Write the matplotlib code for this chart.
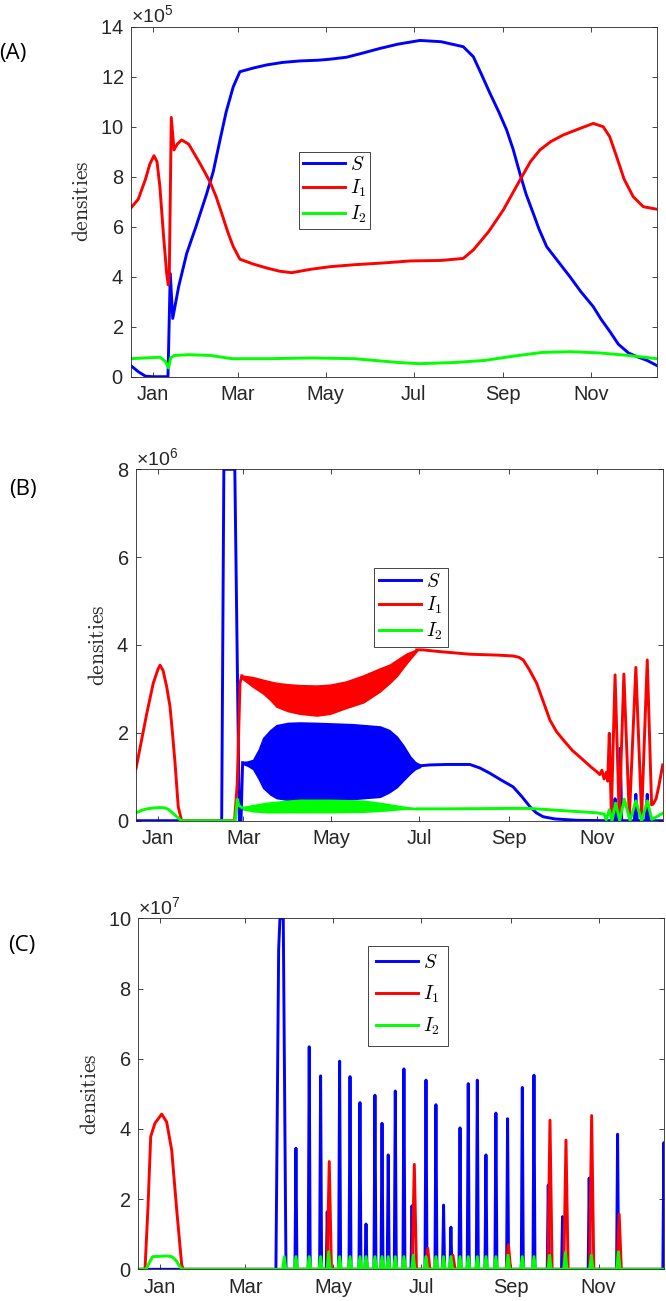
import numpy as np
import matplotlib
matplotlib.use('Agg')
import matplotlib.pyplot as plt
from matplotlib.font_manager import FontProperties
from matplotlib.ticker import ScalarFormatter

plt.rcParams['font.family'] = ['Liberation Sans', 'DejaVu Sans']
plt.rcParams['mathtext.fontset'] = 'custom'
plt.rcParams['mathtext.rm'] = 'Liberation Sans'
plt.rcParams['mathtext.it'] = 'Liberation Sans:italic'
plt.rcParams['mathtext.sf'] = 'Liberation Sans'

# ---------------- data ----------------
month_days = [0, 59, 120, 181, 243, 304]
month_labels = ['Jan', 'Mar', 'May', 'Jul', 'Sep', 'Nov']
x_range = (-15.25, 349.6)
series_names = ['$S$', '$I_1$', '$I_2$']

# Panel A (units of 1e5)
A_S_days = [-15.25, -10, -5, 0, 5, 10.6, 12.2, 13.9, 18, 23.6, 30, 37.5, 42, 46.7, 51, 55.9, 60.5, 70, 79, 90,
            102, 115, 123, 134.6, 146, 157.6, 170, 185.4, 200, 215.4, 222.4, 228, 234, 240, 245.5, 250, 254.7,
            259, 264, 268, 273.3, 280, 289.4, 297, 305.6, 311, 317.2, 323, 330, 336, 343, 349.6]
A_S_vals = [0.45, 0.2, 0.02, 0, 0, 0, 4.13, 2.33, 3.6, 4.93, 6.0, 7.33, 8.2, 9.47, 10.6, 11.6, 12.2, 12.35, 12.47,
            12.57, 12.63, 12.66, 12.7, 12.78, 12.95, 13.13, 13.3, 13.45, 13.4, 13.2, 12.8, 12.1, 11.33, 10.6, 9.87,
            9.1, 8.13, 7.3, 6.53, 5.9, 5.2, 4.7, 4.0, 3.4, 2.8, 2.3, 1.8, 1.3, 0.95, 0.8, 0.65, 0.45]
A_I1_days = [-15.25, -10, -5, -2, 0.9, 3, 5, 7.4, 9.7, 10.8, 11.5, 12.9, 14.8, 17, 20.1, 25, 32.8, 39.7, 44,
             47.9, 52, 55.9, 60.5, 70, 79, 88, 96.4, 110, 123, 140, 160, 178.5, 200, 215.4, 222.4, 233, 243.2,
             254.8, 262, 268.6, 276, 284.8, 295, 305.6, 312.5, 317, 321.8, 327, 333.3, 340.3, 349.6]
A_I1_vals = [6.74, 7.1, 7.9, 8.5, 8.84, 8.6, 7.6, 5.73, 4.13, 3.67, 4.0, 10.37, 9.07, 9.3, 9.47, 9.3, 8.53, 7.8,
             7.2, 6.53, 5.8, 5.2, 4.7, 4.5, 4.35, 4.22, 4.16, 4.3, 4.4, 4.48, 4.55, 4.63, 4.65, 4.73, 5.07, 5.8,
             6.67, 7.87, 8.6, 9.07, 9.4, 9.67, 9.9, 10.13, 10.0, 9.6, 8.8, 7.9, 7.2, 6.8, 6.7]
A_I2_days = [-15.25, -5, 5, 9, 11, 12.5, 15, 25, 40, 55, 80, 110, 140, 170, 185, 210, 230, 250, 270, 290, 310,
             330, 349.6]
A_I2_vals = [0.72, 0.75, 0.78, 0.6, 0.35, 0.75, 0.85, 0.88, 0.85, 0.72, 0.72, 0.75, 0.72, 0.57, 0.52, 0.57,
             0.65, 0.82, 0.97, 1.0, 0.95, 0.85, 0.72]

# Panel B (units of 1e6)
B_S_pre_days = [-15.25, 44.1, 45.6, 53.2, 56.3, 57.5, 58.6]
B_S_pre_vals = [0, 0, 8, 8, 0, 0, 1.32]
B_S_band_days = [58.6, 62, 66, 70, 73, 78, 82.2, 90, 98.3, 110, 119, 135, 153.7, 160, 165.3, 170, 174.5, 178, 181.5]
B_S_band_hi = [1.33, 1.34, 1.38, 1.62, 1.88, 2.06, 2.17, 2.22, 2.23, 2.22, 2.21, 2.19, 2.14, 2.06, 1.91, 1.7, 1.46,
               1.33, 1.27]
B_S_band_lo = [1.3, 1.26, 1.18, 0.95, 0.75, 0.6, 0.52, 0.48, 0.47, 0.47, 0.47, 0.5, 0.55, 0.65, 0.77, 0.93, 1.08,
               1.18, 1.23]
B_S_post_days = [181.5, 188.4, 200, 216, 223, 229.9, 238, 246, 252, 257.6, 262, 266.8, 275, 290, 310]
B_S_post_vals = [1.25, 1.27, 1.28, 1.28, 1.2, 1.08, 0.92, 0.77, 0.55, 0.32, 0.18, 0.09, 0.04, 0.01, 0]
B_S_spike_days = [316.6, 320.2, 331, 338.9]
B_S_spike_vals = [0.5, 1.65, 0.6, 0.6]

B_I1_pre_days = [-15.25, -11, -7.8, -3.3, 0, 1.4, 3.5, 6, 8.3, 10, 11.8, 14, 16.3, 53, 54.9, 56.8, 58]
B_I1_pre_vals = [1.19, 1.9, 2.44, 3.13, 3.45, 3.54, 3.42, 3.05, 2.6, 2.0, 1.31, 0.32, 0, 0, 0.85, 3.13, 3.3]
B_I1_band_days = [58, 62, 66, 73, 78, 82.2, 90, 98.3, 110, 119.1, 130, 142.2, 153.7, 160.7, 165.3, 172.3, 179.2]
B_I1_band_hi = [3.3, 3.28, 3.26, 3.2, 3.16, 3.13, 3.1, 3.08, 3.07, 3.09, 3.16, 3.3, 3.46, 3.55, 3.65, 3.8, 3.89]
B_I1_band_lo = [3.25, 3.15, 3.05, 2.9, 2.75, 2.6, 2.5, 2.44, 2.4, 2.44, 2.57, 2.7, 2.95, 3.15, 3.3, 3.6, 3.87]
B_I1_post_days = [179.2, 183, 195, 216, 235, 246, 250, 253, 257, 262.3, 267, 271.5, 276, 280.7, 287, 294.6, 300,
                  303.8, 306, 307.5, 309, 310.5, 311.5, 312.6, 314, 316.6, 319.5, 322.7, 326.5, 331, 335, 338.9,
                  341.9, 343, 345, 347, 349.6]
B_I1_post_vals = [3.89, 3.89, 3.85, 3.79, 3.77, 3.75, 3.72, 3.66, 3.45, 3.13, 2.7, 2.29, 2.03, 1.84, 1.6, 1.38,
                  1.22, 1.12, 1.05, 1.15, 0.95, 1.1, 0.9, 1.99, 0.15, 3.32, 0.08, 3.34, 0.08, 3.49, 0.1, 3.66,
                  0.36, 0.38, 0.5, 0.8, 1.27]

B_I2_pre_days = [-15.25, -11, -7.8, -3, 1.4, 5, 7, 10, 13, 16, 53.5, 54.9, 56, 58]
B_I2_pre_vals = [0.18, 0.24, 0.27, 0.29, 0.3, 0.29, 0.26, 0.18, 0.09, 0, 0, 0.49, 0.35, 0.3]
B_I2_band_days = [58, 66, 75, 90, 98.3, 119, 142, 153.7, 165, 172.3, 180]
B_I2_band_hi = [0.3, 0.35, 0.4, 0.45, 0.47, 0.47, 0.45, 0.4, 0.34, 0.3, 0.28]
B_I2_band_lo = [0.27, 0.22, 0.2, 0.2, 0.2, 0.2, 0.21, 0.23, 0.26, 0.28, 0.27]
B_I2_post_days = [180, 200, 246, 257, 280, 303.8, 309, 310.5, 312.6, 314.5, 317, 319.8, 323, 327, 331, 335,
                  339, 342, 345, 347, 349.6]
B_I2_post_vals = [0.27, 0.27, 0.28, 0.28, 0.23, 0.18, 0.15, 0.02, 0.25, 0.0, 0.4, 0.0, 0.49, 0.0, 0.45, 0.0,
                  0.45, 0.03, 0.08, 0.12, 0.17]

# Panel C (units of 1e7)
C_I1_early_days = [-15.25, -10.6, -8.5, -6.65, -3.7, 0.97, 4.4, 7.9, 11.4, 14.85, 16]
C_I1_early_vals = [0, 0, 1.8, 3.78, 4.16, 4.42, 4.2, 3.4, 1.69, 0.12, 0]
C_I2_early_days = [-15.25, -9.9, -7.5, -5.3, 4.4, 8, 11, 13.5, 15.5]
C_I2_early_vals = [0, 0, 0.2, 0.36, 0.38, 0.36, 0.25, 0.08, 0]
C_S_big_days = [80.2, 82.1, 83.0, 85.3, 87.2]
C_S_big_vals = [0, 9.1, 10.0, 10.0, 0]
C_S_spike_days = [94.1, 103.3, 111.2, 115.8, 124.4, 131.6, 138.5, 142.7, 148.9, 153.8, 158.1, 163.0, 169.0, 174.6,
                  184.3, 191.2, 196.5, 201.6, 207.9, 213.6, 219.9, 225.9, 232.8, 240.9, 251.1, 259.2, 269.1, 279.0,
                  297.5, 317.2, 349.3]
C_S_spike_vals = [3.45, 6.34, 5.51, 1.64, 5.93, 5.49, 4.75, 1.29, 4.96, 4.16, 3.26, 5.08, 5.71, 1.81, 5.39, 4.69,
                  1.83, 1.2, 4.03, 5.29, 5.39, 3.26, 4.45, 4.29, 5.18, 5.53, 2.4, 1.5, 2.6, 3.85, 3.61]
C_I1_spike_days = [117.2, 176.2, 185.5, 203.0, 241.5, 270.3, 281.4, 299.2, 318.3]
C_I1_spike_vals = [3.07, 2.99, 0.6, 0.4, 0.7, 4.25, 3.68, 4.38, 1.57]
C_I2_spike_days = [86.0, 94.1, 103.3, 111.2, 116.8, 124.4, 131.6, 138.5, 142.7, 148.9, 153.8, 158.1, 163.0, 169.0,
                   175.5, 184.3, 191.2, 196.5, 201.6, 207.9, 213.6, 219.9, 225.9, 232.8, 241.2, 251.1, 259.2,
                   270.0, 281.0, 299.0, 317.8]
C_I2_spike_vals = [0.36, 0.36, 0.36, 0.36, 0.5, 0.36, 0.36, 0.36, 0.36, 0.36, 0.36, 0.36, 0.36, 0.36, 0.4, 0.36,
                   0.36, 0.36, 0.36, 0.36, 0.36, 0.36, 0.36, 0.36, 0.4, 0.36, 0.36, 0.4, 0.48, 0.4, 0.5]

# ---------------- style ----------------
C_S, C_I1, C_I2 = '#0000ff', '#ff0000', '#00ff00'
LW = 2.1
AX_COL = '#262626'
W, H = 666, 1301


def spike_series(days, vals, hw, start=None, end=None):
    xs, ys = [], []
    if start is not None:
        xs.append(start); ys.append(0.0)
    for d, v in zip(days, vals):
        xs += [d - hw, d, d + hw]
        ys += [0.0, v, 0.0]
    if end is not None:
        xs.append(end); ys.append(0.0)
    return np.array(xs), np.array(ys)


fig = plt.figure(figsize=(W / 100, H / 100), dpi=100)


def px_ax(left, top, right, bottom):
    return fig.add_axes([left / W, 1 - bottom / H, (right - left) / W, (bottom - top) / H])


def style_axes(ax, ymax, exp):
    ax.set_xlim(*x_range)
    ax.set_ylim(0, ymax * 10 ** exp)
    ax.set_xticks(month_days)
    ax.set_xticklabels(month_labels)
    ax.set_yticks(np.arange(0, ymax + 1, 2) * 10 ** exp)
    fmt = ScalarFormatter(useMathText=True)
    fmt.set_powerlimits((exp, exp))
    ax.yaxis.set_major_formatter(fmt)
    ax.tick_params(direction='in', length=3.6, width=0.6, top=True, right=True,
                   labelsize=14.4, colors=AX_COL, pad=5)
    ax.tick_params(axis='x', pad=6)
    ax.yaxis.get_offset_text().set_fontsize(14)
    ax.yaxis.get_offset_text().set_color(AX_COL)
    for sp in ax.spines.values():
        sp.set_color(AX_COL)
        sp.set_linewidth(0.6)


leg_prop = FontProperties(family='Liberation Sans', size=14, math_fontfamily='cm')


def add_legend(ax, handles, anchor, lspace, bpad):
    leg = ax.legend(handles, series_names, loc='upper left', bbox_to_anchor=anchor, borderaxespad=0,
                    handlelength=2.16, handletextpad=0.26, labelspacing=lspace, borderpad=bpad,
                    fancybox=False, framealpha=1, edgecolor=AX_COL, prop=leg_prop)
    leg.get_frame().set_linewidth(0.6)


# ---------------- Panel A ----------------
axA = px_ax(130.7, 26.7, 656.7, 376.7)
hS, = axA.plot(A_S_days, np.array(A_S_vals) * 1e5, color=C_S, lw=LW)
hI1, = axA.plot(A_I1_days, np.array(A_I1_vals) * 1e5, color=C_I1, lw=LW)
hI2, = axA.plot(A_I2_days, np.array(A_I2_vals) * 1e5, color=C_I2, lw=LW)
style_axes(axA, 14, 5)
add_legend(axA, [hS, hI1, hI2], (0.320, 0.643), 0.22, 0.2)

# ---------------- Panel B ----------------
axB = px_ax(136.0, 469.3, 662.7, 820.7)
sc = 1e6
hS, = axB.plot(B_S_pre_days, np.array(B_S_pre_vals) * sc, color=C_S, lw=LW)
axB.fill_between(B_S_band_days, np.array(B_S_band_lo) * sc, np.array(B_S_band_hi) * sc,
                 color=C_S, lw=1.5, edgecolor=C_S)
sx, sy = spike_series(B_S_spike_days, B_S_spike_vals, 1.0)
axB.plot(list(B_S_post_days) + list(sx) + [x_range[1]], (np.array(list(B_S_post_vals) + list(sy) + [0])) * sc,
         color=C_S, lw=LW)
hI1, = axB.plot(B_I1_pre_days, np.array(B_I1_pre_vals) * sc, color=C_I1, lw=LW)
axB.fill_between(B_I1_band_days, np.array(B_I1_band_lo) * sc, np.array(B_I1_band_hi) * sc,
                 color=C_I1, lw=1.5, edgecolor=C_I1)
axB.plot(B_I1_post_days, np.array(B_I1_post_vals) * sc, color=C_I1, lw=LW)
hI2, = axB.plot(B_I2_pre_days, np.array(B_I2_pre_vals) * sc, color=C_I2, lw=LW)
axB.fill_between(B_I2_band_days, np.array(B_I2_band_lo) * sc, np.array(B_I2_band_hi) * sc,
                 color=C_I2, lw=1.5, edgecolor=C_I2)
axB.plot(B_I2_post_days, np.array(B_I2_post_vals) * sc, color=C_I2, lw=LW)
style_axes(axB, 8, 6)
add_legend(axB, [hS, hI1, hI2], (0.4525, 0.72), 0.22, 0.25)

# ---------------- Panel C ----------------
axC = px_ax(138.3, 918.3, 664.3, 1269.3)
sc = 1e7
sx, sy = spike_series(C_S_spike_days, C_S_spike_vals, 0.7)
S_x = np.concatenate([[x_range[0]], C_S_big_days, sx])
S_y = np.concatenate([[0], C_S_big_vals, sy])
hS, = axC.plot(S_x, S_y * sc, color=C_S, lw=LW)
rx, ry = spike_series(C_I1_spike_days, C_I1_spike_vals, 1.5, end=x_range[1])
hI1, = axC.plot(np.concatenate([C_I1_early_days, rx]), np.concatenate([C_I1_early_vals, ry]) * sc,
                color=C_I1, lw=LW)
gx, gy = spike_series(C_I2_spike_days, C_I2_spike_vals, 1.1, end=x_range[1])
hI2, = axC.plot(np.concatenate([C_I2_early_days, gx]), np.concatenate([C_I2_early_vals, gy]) * sc,
                color=C_I2, lw=LW)
style_axes(axC, 10, 7)
add_legend(axC, [hS, hI1, hI2], (0.436, 0.921), 0.58, 0.42)

# ---------------- labels ----------------
ylab_prop = FontProperties(size=15.5, math_fontfamily='cm')
for (xc, yc) in [(82, 201.7), (98.7, 645), (90, 1094)]:
    fig.text(xc / W, 1 - yc / H, r'$\mathrm{densities}$', rotation=90, ha='center', va='center',
             fontproperties=ylab_prop, color=AX_COL)

for lab, (xc, yc) in zip(['(A)', '(B)', '(C)'], [(13, 53), (22.5, 490), (21.5, 946)]):
    fig.text(xc / W, 1 - yc / H, lab, ha='center', va='center', fontsize=16,
             family=['Open Sans', 'DejaVu Sans'], color='black')

fig.savefig('out.png', dpi=100)
